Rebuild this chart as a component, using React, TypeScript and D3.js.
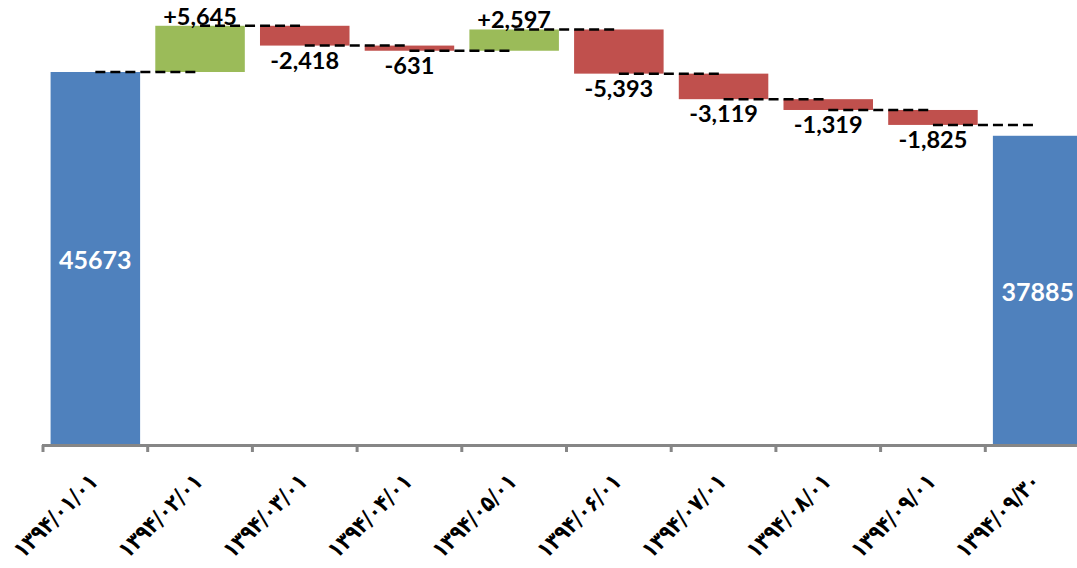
import React from "react";
import * as d3 from "d3";

const categories: string[] = [
  "۱۳۹۴/۰۱/۰۱",
  "۱۳۹۴/۰۲/۰۱",
  "۱۳۹۴/۰۳/۰۱",
  "۱۳۹۴/۰۴/۰۱",
  "۱۳۹۴/۰۵/۰۱",
  "۱۳۹۴/۰۶/۰۱",
  "۱۳۹۴/۰۷/۰۱",
  "۱۳۹۴/۰۸/۰۱",
  "۱۳۹۴/۰۹/۰۱",
  "۱۳۹۴/۰۹/۳۰",
];
const startValue = 45673;
const endValue = 37885;
const changes: number[] = [5645, -2418, -631, 2597, -5393, -3119, -1319, -1825];

const W = 1077;
const H = 568;
const BLUE = "#4F81BD";
const GREEN = "#9BBB59";
const RED = "#C0504D";
const AXIS = "#868686";

const fmt = d3.formatLocale({
  decimal: ".",
  thousands: ",",
  grouping: [3],
  currency: ["", ""],
  minus: "-",
});
const fmtSigned = fmt.format("+,");

type Bar = {
  cat: string;
  y0: number;
  y1: number;
  kind: "total" | "up" | "down";
  label: string;
  level: number;
};

function buildBars(): Bar[] {
  const bars: Bar[] = [];
  let level = startValue;
  bars.push({ cat: categories[0], y0: 0, y1: startValue, kind: "total", label: String(startValue), level });
  changes.forEach((c, i) => {
    const prev = level;
    level = prev + c;
    bars.push({
      cat: categories[i + 1],
      y0: Math.min(prev, level),
      y1: Math.max(prev, level),
      kind: c >= 0 ? "up" : "down",
      label: fmtSigned(c),
      level,
    });
  });
  bars.push({ cat: categories[categories.length - 1], y0: 0, y1: endValue, kind: "total", label: String(endValue), level: endValue });
  return bars;
}

export default function App() {
  const bars = buildBars();
  const x = d3
    .scaleBand<string>()
    .domain(categories)
    .range([43, 1090])
    .paddingInner(0.145)
    .paddingOuter(0.0725);
  const y = d3.scaleLinear().domain([0, 50000]).range([446, 36.57]);
  const step = x.step();
  const bw = x.bandwidth();
  const x0 = x.range()[0];
  const boundaries = d3.range(categories.length + 1).map((i) => x0 + i * step);
  const cx = (c: string) => (x(c) as number) + bw / 2;

  return (
    <svg
      width={W}
      height={H}
      style={{ position: "absolute", left: 0, top: 0, background: "#fff" }}
    >
      <rect width={W} height={H} fill="#fff" />
      {bars.map((b, i) => (
        <rect
          key={"b" + i}
          x={x(b.cat)}
          y={y(b.y1)}
          width={bw}
          height={y(b.y0) - y(b.y1)}
          fill={b.kind === "total" ? BLUE : b.kind === "up" ? GREEN : RED}
        />
      ))}
      {bars.slice(0, bars.length - 1).map((b, i) => (
        <line
          key={"c" + i}
          x1={cx(b.cat)}
          x2={cx(bars[i + 1].cat)}
          y1={y(b.level)}
          y2={y(b.level)}
          stroke="#000"
          strokeWidth={2.5}
          strokeDasharray="10,5"
        />
      ))}
      <line x1={x0 - 1} x2={1090} y1={445.5} y2={445.5} stroke={AXIS} strokeWidth={3} />
      {boundaries.map((bx, i) => (
        <line key={"t" + i} x1={bx} x2={bx} y1={445} y2={452} stroke={AXIS} strokeWidth={3} />
      ))}
      {bars.map((b, i) =>
        b.kind === "total" ? (
          <text
            key={"l" + i}
            x={cx(b.cat)}
            y={(y(b.y0) + y(b.y1)) / 2 + 10}
            textAnchor="middle"
            fill="#fff"
            fontFamily="Lato, 'Open Sans', sans-serif"
            fontWeight={700}
            fontSize={25}
          >
            {b.label}
          </text>
        ) : (
          <text
            key={"l" + i}
            x={cx(b.cat)}
            y={b.kind === "up" ? y(b.y1) - 1 : y(b.y0) + 23}
            textAnchor="middle"
            fill="#000"
            fontFamily="Lato, 'Open Sans', sans-serif"
            fontWeight={700}
            fontSize={23.5}
          >
            {b.label}
          </text>
        )
      )}
      {categories.map((c, i) => {
        const px = cx(c) + 4;
        const py = 483;
        return (
          <text
            key={"x" + i}
            x={px}
            y={py}
            transform={`rotate(-45 ${px} ${py})`}
            textAnchor="end"
            fill="#000"
            fontFamily="'DejaVu Sans', sans-serif"
            fontWeight={700}
            fontSize={23}
            textLength={108}
            lengthAdjust="spacingAndGlyphs"
          >
            {c}
          </text>
        );
      })}
    </svg>
  );
}
